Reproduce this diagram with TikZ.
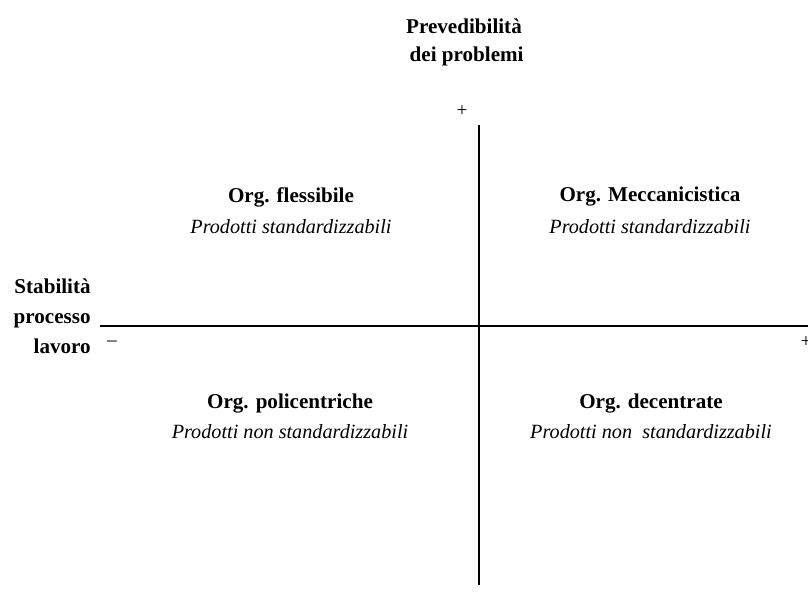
\documentclass[tikz,border=0pt]{standalone}
\usepackage{fontspec}
\setmainfont{Liberation Serif}
\usetikzlibrary{positioning}
\tikzset{
    x=0.02cm, y=-0.02cm,
    axis/.style={line width=1.1pt},
    org/.style={font=\fontsize{12}{14}\selectfont\bfseries, inner sep=0pt},
    prod/.style={font=\fontsize{11.5}{14}\selectfont\itshape, inner sep=0pt},
    lab/.style={font=\fontsize{12}{14}\selectfont\bfseries, inner sep=0pt},
    sign/.style={font=\fontsize{11}{13}\selectfont, inner sep=0pt},
}

\begin{document}
\begin{tikzpicture}
\useasboundingbox (0,0) rectangle (808,612);

% axes
\coordinate (w) at (100,326);
\coordinate (e) at (808,326);
\coordinate (n) at (479,125);
\coordinate (s) at (479,585);
\draw[axis] (w) -- (e);
\draw[axis] (n) -- (s);

% axis titles
\node[lab, align=center] (prev) at (464,42) {Prevedibilità\\[2pt] \ dei problemi};
\node[lab, align=right, anchor=east] (stab) at (91,316) {Stabilità\\[3pt] processo\\[3pt] lavoro};

\node[sign] (ptop) at (462,111) {+};
\node[sign] (pright) at (806,342) {+};
\node[sign] (mleft) at (112,341) {\_};

% quadranti
\node[org] (flex) at (291,197) {Org. flessibile};
\node[prod] (flexp) [below=7pt of flex] {Prodotti standardizzabili};

\node[org] (mecc) at (650,197) {Org. Meccanicistica};
\node[prod] (meccp) [below=7pt of mecc] {Prodotti standardizzabili};

\node[org] (poli) at (290,404) {Org. policentriche};
\node[prod] (polip) [below=6pt of poli] {Prodotti non standardizzabili};

\node[org] (dec) at (651,404) {Org. decentrate};
\node[prod] (decp) [below=6pt of dec] {Prodotti non\ \ standardizzabili};

\end{tikzpicture}
\end{document}
